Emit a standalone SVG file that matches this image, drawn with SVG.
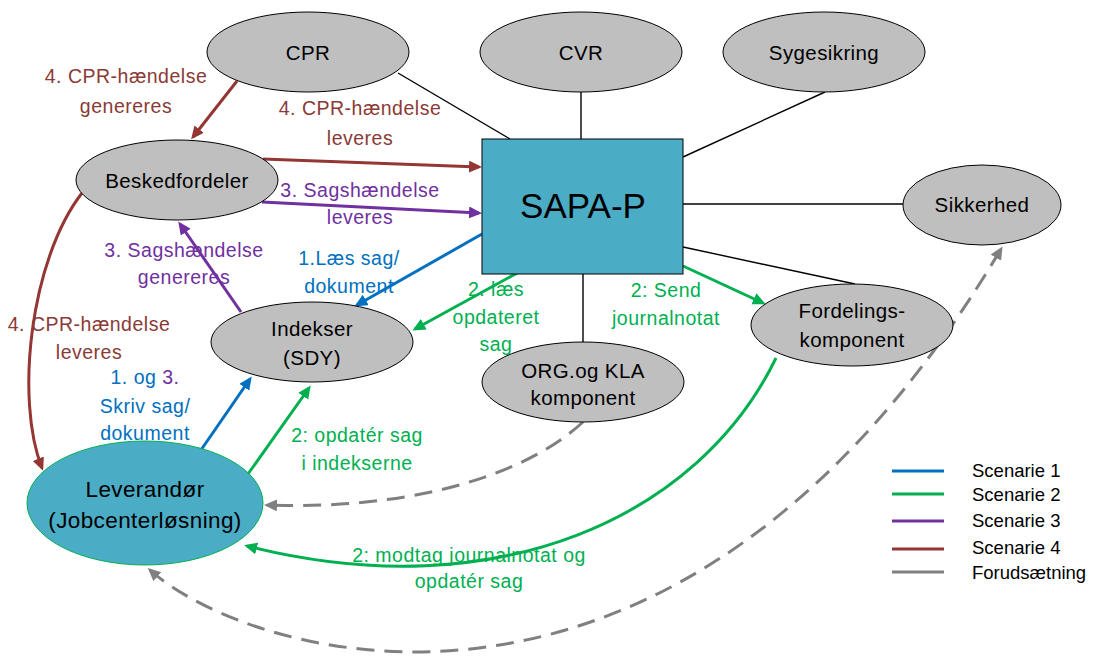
<svg xmlns="http://www.w3.org/2000/svg" width="1093" height="659" viewBox="0 0 1093 659">
<style>
text{font-family:"Liberation Sans",Arial,sans-serif;text-anchor:middle}
.node{fill:#BFBFBF;stroke:#000;stroke-width:1}
.nt{font-size:20.5px;fill:#000;letter-spacing:0.4px}
.lb{font-size:19.5px;letter-spacing:0.5px}
.c1{fill:#0070C0}.c2{fill:#00B050}.c3{fill:#7030A0}.c4{fill:#8A3A36}
.blk{stroke:#000;stroke-width:1.4;fill:none}
.s1{stroke:#0070C0;stroke-width:3;fill:none;marker-end:url(#a1)}
.s2{stroke:#00B050;stroke-width:3;fill:none;marker-end:url(#a2)}
.s3{stroke:#7030A0;stroke-width:3;fill:none;marker-end:url(#a3)}
.s4{stroke:#943634;stroke-width:3;fill:none;marker-end:url(#a4)}
.sg{stroke:#808080;stroke-width:3;fill:none;stroke-dasharray:18 10;marker-end:url(#ag)}
.leg{font-size:18.5px;text-anchor:start;fill:#000}
</style>
<defs>
<marker id="a1" markerUnits="userSpaceOnUse" markerWidth="14" markerHeight="14" refX="10" refY="6" orient="auto"><path d="M0 0L13 6L0 12z" fill="#0070C0"/></marker>
<marker id="a2" markerUnits="userSpaceOnUse" markerWidth="14" markerHeight="14" refX="10" refY="6" orient="auto"><path d="M0 0L13 6L0 12z" fill="#00B050"/></marker>
<marker id="a3" markerUnits="userSpaceOnUse" markerWidth="14" markerHeight="14" refX="10" refY="6" orient="auto"><path d="M0 0L13 6L0 12z" fill="#7030A0"/></marker>
<marker id="a4" markerUnits="userSpaceOnUse" markerWidth="14" markerHeight="14" refX="10" refY="6" orient="auto"><path d="M0 0L13 6L0 12z" fill="#943634"/></marker>
<marker id="ag" markerUnits="userSpaceOnUse" markerWidth="14" markerHeight="14" refX="10" refY="6" orient="auto-start-reverse"><path d="M0 0L13 6L0 12z" fill="#808080"/></marker>
</defs>

<g id="connectors">
<line class="blk" x1="398" y1="73" x2="510" y2="139"/>
<line class="blk" x1="581" y1="92" x2="581" y2="139"/>
<line class="blk" x1="825" y1="92" x2="683" y2="157"/>
<line class="blk" x1="683" y1="204" x2="903" y2="204"/>
<line class="blk" x1="683" y1="247" x2="855" y2="284"/>
<line class="blk" x1="583" y1="274" x2="583" y2="342"/>

<path class="s4" d="M237 81L193 137"/>
<path class="s4" d="M263 159L479 167"/>
<path class="s4" d="M82 193C30 260 15 400 42 468"/>

<path class="s3" d="M262 202L479 213"/>
<path class="s3" d="M241 312L180 224"/>

<path class="s1" d="M482 234L357 305"/>
<path class="s1" d="M201 450L250 379"/>

<path class="s2" d="M528 267L415 329"/>
<path class="s2" d="M683 266L763 303"/>
<path class="s2" d="M248 474L309 388"/>
<path class="s2" d="M776 358C700 515 500 610 247 546"/>

<path class="sg" d="M583 422C520 480 400 510 267 505"/>
<path class="sg" style="marker-start:url(#ag)" d="M150 570C250 660 680 790 1001 249"/>
</g>

<g id="sapa"><rect x="482" y="139" width="201" height="135" fill="#4BACC6" stroke="#000" stroke-width="1"/><text x="583" y="218" style="font-size:35px" fill="#000">SAPA-P</text></g>
<g id="cpr"><ellipse class="node" cx="308" cy="52" rx="101" ry="40"/><text class="nt" x="308" y="60">CPR</text></g>
<g id="cvr"><ellipse class="node" cx="581" cy="52" rx="101" ry="40"/><text class="nt" x="581" y="60">CVR</text></g>
<g id="sygesikring"><ellipse class="node" cx="824" cy="52" rx="101" ry="40"/><text class="nt" x="824" y="60">Sygesikring</text></g>
<g id="sikkerhed"><ellipse class="node" cx="982" cy="205" rx="79" ry="40"/><text class="nt" x="982" y="212">Sikkerhed</text></g>
<g id="beskedfordeler"><ellipse class="node" cx="177" cy="180" rx="101" ry="40"/><text class="nt" x="177" y="188">Beskedfordeler</text></g>
<g id="indekser"><ellipse class="node" cx="312" cy="342" rx="101" ry="40"/><text class="nt" x="312" y="336">Indekser</text><text class="nt" x="312" y="365">(SDY)</text></g>
<g id="org"><ellipse class="node" cx="583" cy="382" rx="101" ry="40"/><text class="nt" x="583" y="378">ORG.og KLA</text><text class="nt" x="583" y="405">komponent</text></g>
<g id="fordeling"><ellipse class="node" cx="852" cy="325" rx="101" ry="41"/><text class="nt" x="852" y="318">Fordelings-</text><text class="nt" x="852" y="347">komponent</text></g>
<g id="leverandor"><ellipse cx="145" cy="503" rx="118" ry="62" fill="#4BACC6" stroke="#00B050" stroke-width="1"/><text class="nt" x="145" y="497" style="font-size:22.5px">Leverandør</text><text class="nt" x="145" y="528" style="font-size:22.5px">(Jobcenterløsning)</text></g>

<g id="labels">
<text class="lb c4" x="126" y="83">4. CPR-hændelse</text>
<text class="lb c4" x="126" y="113">genereres</text>
<text class="lb c4" x="360" y="115">4. CPR-hændelse</text>
<text class="lb c4" x="360" y="145">leveres</text>
<text class="lb c3" x="360" y="197">3. Sagshændelse</text>
<text class="lb c3" x="360" y="224">leveres</text>
<text class="lb c3" x="184" y="257">3. Sagshændelse</text>
<text class="lb c3" x="184" y="284">genereres</text>
<text class="lb c1" x="349" y="265">1.Læs sag/</text>
<text class="lb c1" x="349" y="293">dokument</text>
<text class="lb c4" x="89" y="331">4. CPR-hændelse</text>
<text class="lb c4" x="89" y="359">leveres</text>
<text class="lb" x="145" y="384"><tspan class="c1">1. og </tspan><tspan class="c3">3.</tspan></text>
<text class="lb c1" x="145" y="413">Skriv sag/</text>
<text class="lb c1" x="145" y="440">dokument</text>
<text class="lb c2" x="357" y="442">2: opdatér sag</text>
<text class="lb c2" x="357" y="470">i indekserne</text>
<text class="lb c2" x="496" y="296">2. læs</text>
<text class="lb c2" x="496" y="324">opdateret</text>
<text class="lb c2" x="496" y="351">sag</text>
<text class="lb c2" x="666" y="297">2: Send</text>
<text class="lb c2" x="666" y="325">journalnotat</text>
<text class="lb c2" x="469" y="562">2: modtag journalnotat og</text>
<text class="lb c2" x="469" y="588">opdatér sag</text>
</g>

<g id="legend">
<line x1="892" y1="471" x2="944" y2="471" stroke="#0070C0" stroke-width="3"/>
<line x1="892" y1="494" x2="944" y2="494" stroke="#00B050" stroke-width="3"/>
<line x1="892" y1="521" x2="944" y2="521" stroke="#7030A0" stroke-width="3"/>
<line x1="892" y1="549" x2="944" y2="549" stroke="#943634" stroke-width="3"/>
<line x1="892" y1="572" x2="944" y2="572" stroke="#808080" stroke-width="3"/>
<text class="leg" x="972" y="477">Scenarie 1</text>
<text class="leg" x="972" y="501">Scenarie 2</text>
<text class="leg" x="972" y="527">Scenarie 3</text>
<text class="leg" x="972" y="554">Scenarie 4</text>
<text class="leg" x="972" y="579">Forudsætning</text>
</g>
</svg>
